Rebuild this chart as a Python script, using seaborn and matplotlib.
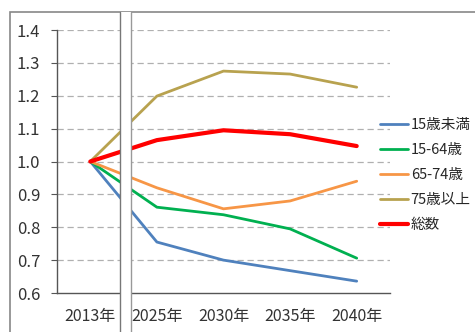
"""
Population index by age group (2013 = 1.0), with an axis break after 2013.
"""

import pandas as pd
import matplotlib.pyplot as plt
import seaborn as sns
from matplotlib.patches import Rectangle
from matplotlib.lines import Line2D

years = ["2013年", "2025年", "2030年", "2035年", "2040年"]
groups = ["15歳未満", "15-64歳", "65-74歳", "75歳以上", "総数"]
under15 = [1.0, 0.755, 0.700, 0.668, 0.636]
age15_64 = [1.0, 0.861, 0.838, 0.795, 0.706]
age65_74 = [1.0, 0.920, 0.856, 0.880, 0.940]
over75 = [1.0, 1.199, 1.275, 1.266, 1.226]
total = [1.0, 1.065, 1.095, 1.083, 1.047]

colors = ["#4F81BD", "#00B050", "#F79646", "#B8A24F", "#FF0000"]
widths = [2.0, 2.0, 2.0, 2.0, 3.0]


def build_frame() -> pd.DataFrame:
    rows = []
    for name, vals in zip(groups, [under15, age15_64, age65_74, over75, total]):
        for i, v in enumerate(vals):
            rows.append({"pos": i, "year": years[i], "group": name, "value": v})
    return pd.DataFrame(rows)


W, H = 475, 332
sns.set_style("white")
plt.rcParams["font.family"] = ["Noto Sans CJK JP", "DejaVu Sans"]

df = build_frame()
fig = plt.figure(figsize=(W / 100, H / 100), dpi=100)
ax = fig.add_axes([57 / W, 1 - 293 / H, (390 - 57) / W, (293 - 30) / H])

for name, c, lw in zip(groups, colors, widths):
    sns.lineplot(data=df[df["group"] == name], x="pos", y="value",
                 color=c, linewidth=lw, ax=ax, legend=False)

ax.set_xlim(-0.5, 4.5)
ax.set_ylim(0.6, 1.4)
ax.set_yticks([0.6 + 0.1 * k for k in range(9)])
ax.set_yticklabels([f"{0.6 + 0.1 * k:.1f}" for k in range(9)], fontsize=12, color="#333333")
ax.set_xticks(range(len(years)))
ax.set_xticklabels(years, fontsize=11.5, color="#333333")
ax.set_xticks([k - 0.5 for k in range(len(years) + 1)], minor=True)
ax.tick_params(axis="x", which="major", length=0, pad=11)
ax.tick_params(axis="x", which="minor", length=4, color="#555555", direction="out")
ax.tick_params(axis="y", length=4, color="#555555", direction="out", left=True, pad=8)
ax.set_xlabel("")
ax.set_ylabel("")

for k in range(1, 9):
    ax.axhline(0.6 + 0.1 * k, color="#b0b0b0", linestyle=(0, (5, 3)), linewidth=0.9, zorder=0)

sns.despine(ax=ax)
for s in ["left", "bottom"]:
    ax.spines[s].set_color("#555555")
    ax.spines[s].set_linewidth(1.0)

handles = [Line2D([0], [0], color=c, linewidth=lw) for c, lw in zip(colors, widths)]
fig.legend(handles, groups, loc="center left", bbox_to_anchor=(380 / W, 1 - 175 / H),
           frameon=False, fontsize=10.5, handlelength=1.9, handletextpad=0.2,
           labelspacing=0.75, borderaxespad=0, borderpad=0)

# outer chart frame
fig.patches.append(Rectangle((10 / W, -0.05), 1.1, (1 - 12 / H) + 0.05,
                             transform=fig.transFigure, fill=False,
                             edgecolor="#888888", linewidth=1.2))
# axis break band
fig.patches.append(Rectangle((120 / W, -0.05), 11 / W, (1 - 12 / H) + 0.05,
                             transform=fig.transFigure, facecolor="white",
                             edgecolor="none", zorder=10))
for bx, bc in [(120, "#777777"), (131, "#999999")]:
    fig.lines.append(Line2D([bx / W, bx / W], [0, 1 - 12 / H], transform=fig.transFigure,
                            color=bc, linewidth=1.0, zorder=11))

fig.savefig("out.png", dpi=100)
